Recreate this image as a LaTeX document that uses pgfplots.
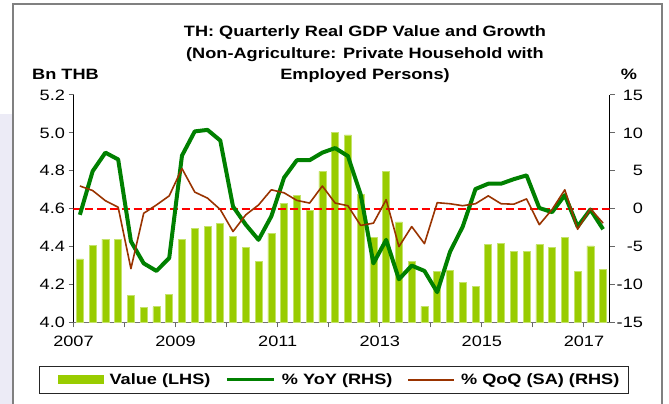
\documentclass[border=0pt]{standalone}
\usepackage{fontspec}
\setmainfont{Liberation Sans}[FakeStretch=1.21]
\usepackage{pgfplots}
\pgfplotsset{compat=1.18}
\definecolor{barg}{HTML}{99CC00}
\definecolor{baredge}{HTML}{C4E36A}
\definecolor{yoyg}{HTML}{008000}
\definecolor{qoqb}{HTML}{993300}
\definecolor{framegray}{HTML}{808080}
\definecolor{lav}{HTML}{ECEBF6}

% quarter index (bar centre), value in Bn THB
\pgfplotstableread{
x v
0.5 4.335
1.5 4.405
2.5 4.44
3.5 4.44
4.5 4.145
5.5 4.08
6.5 4.083
7.5 4.149
8.5 4.44
9.5 4.496
10.5 4.506
11.5 4.524
12.5 4.453
13.5 4.395
14.5 4.322
15.5 4.471
16.5 4.630
17.5 4.669
18.5 4.591
19.5 4.797
20.5 5.002
21.5 4.99
22.5 4.674
23.5 4.45
24.5 4.797
25.5 4.531
26.5 4.322
27.5 4.085
28.5 4.269
29.5 4.274
30.5 4.212
31.5 4.191
32.5 4.411
33.5 4.418
34.5 4.377
35.5 4.377
36.5 4.411
37.5 4.398
38.5 4.448
39.5 4.271
40.5 4.404
41.5 4.281
}\valuedata

% growth rates, %
\pgfplotstableread{
x yoy qoq
0.5 -0.8 3.0
1.5 4.95 2.4
2.5 7.4 1.06
3.5 6.5 0.2
4.5 -4.3 -7.9
5.5 -7.2 -0.6
6.5 -8.2 0.5
7.5 -6.5 1.7
8.5 7.0 5.3
9.5 10.2 2.2
10.5 10.4 1.4
11.5 9.0 -0.1
12.5 0.3 -3.0
13.5 -2.1 -0.8
14.5 -4.1 0.5
15.5 -1.0 2.5
16.5 4.1 2.1
17.5 6.4 1.1
18.5 6.4 0.75
19.5 7.4 3.0
20.5 8.0 0.75
21.5 6.95 0.4
22.5 1.9 -2.2
23.5 -7.2 -1.9
24.5 -4.1 1.2
25.5 -9.3 -5.0
26.5 -7.5 -2.35
27.5 -8.2 -4.6
28.5 -11.0 0.8
29.5 -5.7 0.66
30.5 -2.35 0.4
31.5 2.6 0.66
32.5 3.3 1.7
33.5 3.3 0.66
34.5 3.9 0.6
35.5 4.4 1.3
36.5 0.1 -2.1
37.5 -0.45 -0.1
38.5 1.8 2.5
39.5 -2.35 -2.7
40.5 -0.1 0.0
41.5 -2.7 -1.9
}\growthdata

\begin{document}
\begin{tikzpicture}[x=1pt,y=1pt]
\useasboundingbox (0,0) rectangle (669,404);
\fill[lav] (0,0) rectangle (12,290);
\draw[framegray, line width=1.5pt] (13,-2) -- (13,400) -- (662,400) -- (662,-2);

\begin{scope}[every node/.style={inner sep=0pt, font=\bfseries\fontsize{15}{18}\selectfont}]
\node[anchor=base] at (365,367) {TH: Quarterly Real GDP Value and Growth};
\node[anchor=base] at (365,345) {(Non-Agriculture: Private Household with};
\node[anchor=base] at (365,324) {Employed Persons)};
\node[anchor=base west] at (32,324) {Bn THB};
\node[anchor=base] at (629,324) {\%};
\end{scope}

\pgfplotsset{
  common/.style={
    at={(73.5pt,81.5pt)}, anchor=south west,
    scale only axis, width=536pt, height=227.5pt,
    xmin=0, xmax=42,
    tick align=outside,
    major tick length=5pt, minor tick length=5pt,
    tick style={black!60, line width=1pt},
    ticklabel style={font=\fontsize{15}{18}\selectfont},
  }
}

\begin{axis}[common,
  ymin=4, ymax=5.2,
  axis x line*=bottom, axis y line*=left,
  x axis line style={black!55, line width=1.5pt},
  y axis line style={black, line width=1pt},
  xtick={0,8,16,24,32,40},
  xticklabels={2007,2009,2011,2013,2015,2017},
  minor xtick={4,12,20,28,36},
  xticklabel style={yshift=-5pt},
  ytick={4,4.2,4.4,4.6,4.8,5,5.2},
  yticklabels={4.0,4.2,4.4,4.6,4.8,5.0,5.2},
  ybar, bar width=7pt,
]
\addplot[fill=barg, draw=baredge, line width=0.6pt] table[x=x, y=v] {\valuedata};
\end{axis}

\begin{axis}[common,
  ymin=-15, ymax=15,
  axis x line=none, axis y line*=right,
  y axis line style={black, line width=1pt},
  ytick={-15,-10,-5,0,5,10,15},
  yticklabels={-15,-10,-5,0,5,10,15},
  yticklabel style={anchor=east, xshift=32pt},
  legend style={at={(0.486,-0.2527)}, anchor=center,
    draw=black!85, line width=1pt,
    legend columns=3,
    inner xsep=7pt, inner ysep=5pt,
    font=\bfseries\fontsize{15}{18}\selectfont,
    /tikz/every even column/.append style={column sep=13pt}},
]
\addlegendimage{legend image code/.code={
  \path (0pt,0pt) (60pt,0pt);
  \fill[barg] (11pt,-4pt) rectangle (56pt,4pt);}}
\addplot[red, line width=2pt, dash pattern=on 8pt off 4pt, forget plot]
  coordinates {(0,0) (42,0)};
\addplot[yoyg, line width=4pt, line join=round,
  legend image code/.code={\path (51pt,0pt);
    \draw[yoyg, line width=3pt] (0pt,0pt) -- (47pt,0pt);}]
  table[x=x, y=yoy] {\growthdata};
\addplot[qoqb, line width=1.6pt, line join=round,
  legend image code/.code={\path (50pt,0pt);
    \draw[qoqb, line width=1.6pt] (0pt,0pt) -- (46pt,0pt);}]
  table[x=x, y=qoq] {\growthdata};
\legend{Value (LHS),\% YoY (RHS),\% QoQ (SA) (RHS)}
\end{axis}
\end{tikzpicture}
\end{document}
